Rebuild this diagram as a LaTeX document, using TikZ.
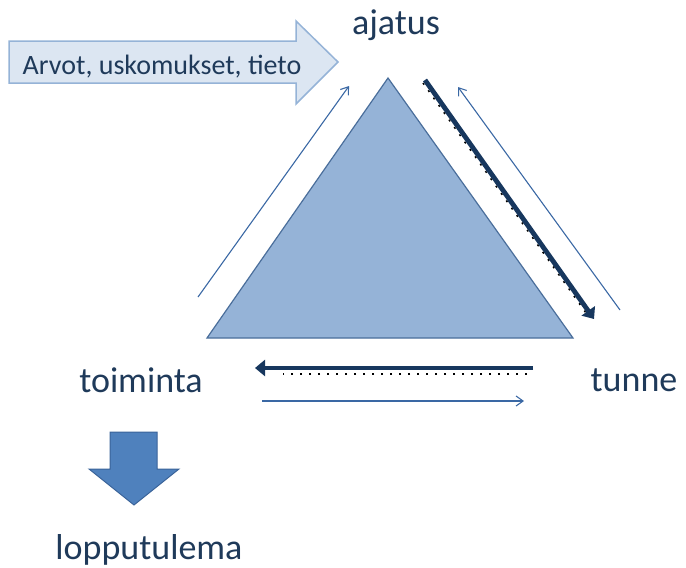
\documentclass[tikz,border=0pt]{standalone}
\usepackage{fontspec}
\setmainfont{Carlito}
\usetikzlibrary{arrows.meta}
\definecolor{tri}{HTML}{95B3D7}
\definecolor{triedge}{HTML}{4A6E9B}
\definecolor{lightfill}{HTML}{DCE6F2}
\definecolor{lightedge}{HTML}{95B3D7}
\definecolor{thin}{HTML}{3A68A4}
\definecolor{navy}{HTML}{17375E}
\definecolor{txt}{HTML}{1F3A5A}
\definecolor{downfill}{HTML}{4F81BD}
\definecolor{downedge}{HTML}{3A6399}
\tikzset{
  lbl/.style={text=txt, font=\fontsize{36}{40}\selectfont, inner sep=0pt},
  inlbl/.style={text=txt, font=\fontsize{28}{32}\selectfont, inner sep=0pt},
  thinarrow/.style={draw=thin, line width=1.1pt, -{Straight Barb[length=7pt,width=10pt]}},
  thickarrow/.style={draw=navy, line width=4.8pt, -{Triangle[length=10pt,width=16pt]}},
  dotline/.style={draw=black, line width=1.5pt, dash pattern=on 2pt off 7pt},
}
\begin{document}
\begin{tikzpicture}[x=1pt,y=-1pt]
\useasboundingbox (0,0) rectangle (686,568);
% triangle
\filldraw[fill=tri, draw=triedge, line width=1.2pt] (388,78) -- (573,338) -- (207,338) -- cycle;
% big input arrow
\filldraw[fill=lightfill, draw=lightedge, line width=1.5pt]
  (9,41) -- (296,41) -- (296,21) -- (338,62) -- (296,104) -- (296,83) -- (9,83) -- cycle;
\node[inlbl, anchor=center] (input) at (162,67) {Arvot, uskomukset, tieto};
% labels
\node[lbl] (ajatus) at (396,25) {ajatus};
\node[lbl] (toiminta) at (141,380) {toiminta};
\node[lbl] (tunne) at (634,380) {tunne};
\node[lbl] (loppu) at (149,550) {lopputulema};
% coordinates for connectors
\coordinate (l1) at (198,297); \coordinate (l2) at (349,86);
\coordinate (r1) at (620,310); \coordinate (r2) at (458,87);
\coordinate (d1) at (425,80); \coordinate (d2) at (594,319);
\coordinate (dd1) at (423,83); \coordinate (dd2) at (586,313);
\coordinate (b1) at (533,368); \coordinate (b2) at (255,368);
\coordinate (bd1) at (527,374); \coordinate (bd2) at (283,374);
\coordinate (t1) at (262,401); \coordinate (t2) at (524,401);
% thin arrows
\draw[thinarrow] (l1) -- (l2);
\draw[thinarrow] (r1) -- (r2);
\draw[thinarrow] (t1) -- (t2);
% dotted companions
\draw[dotline] (dd1) -- (dd2);
\draw[dotline] (bd1) -- (bd2);
% thick arrows
\draw[thickarrow] (d1) -- (d2);
\draw[thickarrow] (b1) -- (b2);
% down arrow
\filldraw[fill=downfill, draw=downedge, line width=1pt]
  (110,432) -- (157,432) -- (157,469) -- (179,469) -- (134,505) -- (89,469) -- (110,469) -- cycle;
\end{tikzpicture}
\end{document}
